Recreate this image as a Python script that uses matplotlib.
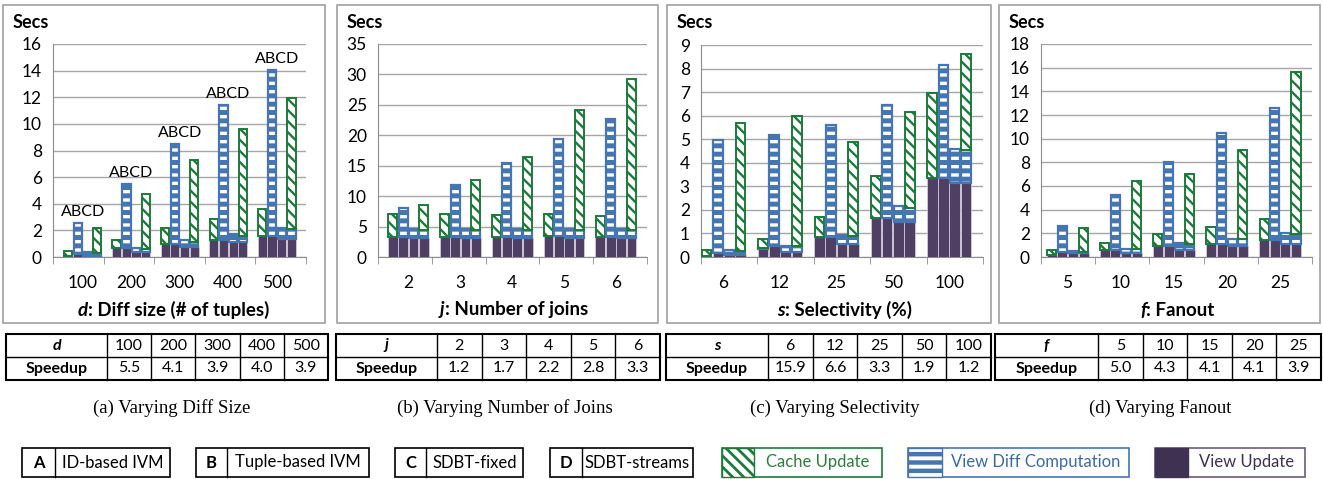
import numpy as np
import matplotlib.pyplot as plt
from matplotlib.patches import Rectangle

W, H = 1323, 479
plt.rcParams['font.family'] = ['Lato', 'DejaVu Sans']

PURPLE = '#4f3f63'
BLUE = '#4676b2'
GREEN = '#1c7a3a'
GRID = '#a6a6a6'
AXIS = '#8c8c8c'

systems = ['A', 'B', 'C', 'D']
system_names = ['ID-based IVM', 'Tuple-based IVM', 'SDBT-fixed', 'SDBT-streams']

# (a) diff size -- rows are systems A..D, columns the 5 settings
d_vals = ['100', '200', '300', '400', '500']
d_update = [[0.05, 0.65, 1.0, 1.3, 1.6],
            [0.25, 0.65, 1.0, 1.3, 1.6],
            [0.1, 0.35, 0.75, 1.1, 1.35],
            [0.1, 0.35, 0.75, 1.1, 1.35]]
d_diff = [[0, 0, 0, 0, 0],
          [2.3, 4.8, 7.5, 10.1, 12.45],
          [0.25, 0.35, 0.5, 0.65, 0.85],
          [0.2, 0.25, 0.4, 0.5, 0.75]]
d_cache = [[0.4, 0.65, 1.15, 1.55, 2.0],
           [0, 0, 0, 0, 0],
           [0, 0, 0, 0, 0],
           [1.9, 4.1, 6.1, 8.05, 9.85]]
d_speedup = ['5.5', '4.1', '3.9', '4.0', '3.9']

# (b) number of joins
j_vals = ['2', '3', '4', '5', '6']
j_update = [[3.3, 3.3, 3.3, 3.4, 3.3],
            [3.3, 3.3, 3.3, 3.4, 3.3],
            [3.1, 3.1, 3.1, 3.1, 3.1],
            [3.1, 3.1, 3.1, 3.1, 3.1]]
j_diff = [[0, 0, 0, 0, 0],
          [4.8, 8.6, 12.2, 16.0, 19.4],
          [1.5, 1.5, 1.5, 1.5, 1.5],
          [1.4, 1.4, 1.4, 1.4, 1.4]]
j_cache = [[3.7, 3.7, 3.6, 3.6, 3.5],
           [0, 0, 0, 0, 0],
           [0, 0, 0, 0, 0],
           [4.1, 8.2, 12.0, 19.6, 24.8]]
j_speedup = ['1.2', '1.7', '2.2', '2.8', '3.3']

# (c) selectivity
s_vals = ['6', '12', '25', '50', '100']
s_update = [[0.05, 0.35, 0.85, 1.65, 3.35],
            [0.15, 0.45, 0.85, 1.65, 3.35],
            [0.1, 0.2, 0.55, 1.5, 3.15],
            [0.1, 0.2, 0.55, 1.5, 3.15]]
s_diff = [[0, 0.05, 0, 0, 0],
          [4.8, 4.75, 4.75, 4.8, 4.8],
          [0.2, 0.25, 0.4, 0.65, 1.45],
          [0.15, 0.25, 0.35, 0.6, 1.4]]
s_cache = [[0.25, 0.35, 0.85, 1.8, 3.6],
           [0, 0, 0, 0, 0],
           [0, 0, 0, 0, 0],
           [5.45, 5.55, 4.0, 4.05, 4.05]]
s_speedup = ['15.9', '6.6', '3.3', '1.9', '1.2']

# (d) fanout
f_vals = ['5', '10', '15', '20', '25']
f_update = [[0.15, 0.55, 0.9, 1.1, 1.4],
            [0.4, 0.55, 0.9, 1.1, 1.4],
            [0.3, 0.35, 0.6, 0.9, 1.1],
            [0.3, 0.35, 0.6, 0.9, 1.1]]
f_diff = [[0, 0, 0, 0, 0],
          [2.25, 4.7, 7.15, 9.4, 11.15],
          [0.2, 0.35, 0.6, 0.65, 0.9],
          [0.15, 0.3, 0.5, 0.6, 0.85]]
f_cache = [[0.4, 0.65, 1.05, 1.45, 1.8],
           [0, 0, 0, 0, 0],
           [0, 0, 0, 0, 0],
           [2.0, 5.75, 5.95, 7.55, 13.7]]
f_speedup = ['5.0', '4.3', '4.1', '4.1', '3.9']

fig = plt.figure(figsize=(W / 100, H / 100), dpi=100)

# overlay in pixel coordinates for boxes, tables, captions and legend
bg = fig.add_axes([0, 0, 1, 1])
bg.set_xlim(0, W)
bg.set_ylim(H, 0)
bg.axis('off')


def hatched_bar(ax, xs, h, w, bottom, ec, hatch, hlw, lw):
    with plt.rc_context({'hatch.linewidth': hlw}):
        bars = ax.bar(xs, h, w, bottom=bottom, color='white', edgecolor=ec,
                      hatch=hatch, lw=lw, zorder=3)
    for b in bars:
        try:
            b.set_hatch_linewidth(hlw)
        except AttributeError:
            pass


def panel(box, rect, xmin, cats, upd, diff, cache, ymax, ystep,
          var, rest, xl_left, abcd=False):
    bg.add_patch(Rectangle((box[0], box[1]), box[2] - box[0], box[3] - box[1],
                           fill=False, ec='#a0a0a0', lw=1.2))
    bg.text(box[0] + 10, 22, 'Secs', fontsize=13, fontweight='bold',
            va='center', ha='left')
    ax = fig.add_axes([rect[0] / W, 1 - rect[3] / H,
                       (rect[2] - rect[0]) / W, (rect[3] - rect[1]) / H])
    ax.set_facecolor('none')
    x = np.arange(len(cats))
    w = 0.2
    for k in range(4):
        xs = x + (k - 1.5) * w
        u = np.array(upd[k], dtype=float)
        dd = np.array(diff[k], dtype=float)
        c = np.array(cache[k], dtype=float)
        ax.bar(xs, u, w * 0.94, color=PURPLE, edgecolor='#d9d2e6', lw=0.5, zorder=3)
        if dd.any():
            hatched_bar(ax, xs, dd, w * 0.86, u, BLUE, '--', 3.6, 1.6)
        if c.any():
            hatched_bar(ax, xs, c, w * 0.86, u + dd, GREEN, '\\\\\\', 1.7, 1.4)
        if abcd and k == 1:
            tops = u + dd + c
            for xi, t in zip(x, tops):
                ax.annotate('ABCD', (xi, t), xytext=(0, 3), textcoords='offset points',
                            ha='center', va='bottom', fontsize=11.5,
                            annotation_clip=False)
    ax.set_xlim(xmin, 4.6)
    ax.set_ylim(0, ymax)
    ax.set_yticks(np.arange(0, ymax + ystep / 2, ystep))
    ax.yaxis.grid(True, color=GRID, lw=1)
    ax.set_axisbelow(True)
    for sp in ['top', 'right']:
        ax.spines[sp].set_visible(False)
    for sp in ['left', 'bottom']:
        ax.spines[sp].set_color(AXIS)
    ax.tick_params(axis='y', length=0, pad=8, labelsize=12.5)
    ax.set_xticks(x)
    ax.set_xticklabels(cats)
    ax.tick_params(axis='x', which='major', length=0, pad=13, labelsize=12.5)
    ax.set_xticks(np.linspace(xmin, 4.6, 6), minor=True)
    ax.tick_params(axis='x', which='minor', length=5, color=AXIS)
    t1 = bg.text(xl_left, 310, var, fontsize=13.5, fontweight='bold', style='italic',
                 va='center', ha='left')
    bg.annotate(rest, xy=(1, 0.5), xycoords=t1, fontsize=13.5, fontweight='bold',
                va='center', ha='left')
    return ax


def table(left, div, right, var, cats, speed):
    top, mid, bot = 334, 357, 380
    bg.add_patch(Rectangle((left, top), right - left, bot - top, fill=False,
                           ec='black', lw=1.5))
    bg.plot([left, right], [mid, mid], color='black', lw=1)
    cols = np.linspace(div, right, len(cats) + 1)
    for cx in cols[:-1]:
        bg.plot([cx, cx], [top, bot], color='black', lw=1)
    bg.text((left + div) / 2, (top + mid) / 2, var, fontsize=11.5, fontweight='bold',
            style='italic', ha='center', va='center')
    bg.text((left + div) / 2, (mid + bot) / 2, 'Speedup', fontsize=11.5,
            fontweight='bold', ha='center', va='center')
    for i in range(len(cats)):
        cx = (cols[i] + cols[i + 1]) / 2
        bg.text(cx, (top + mid) / 2, cats[i], fontsize=11.5, ha='center', va='center')
        bg.text(cx, (mid + bot) / 2, speed[i], fontsize=11.5, ha='center', va='center')


panel((3, 5, 325, 323), (53, 44, 306, 257), -0.61, d_vals, d_update, d_diff, d_cache,
      16, 2, 'd', ': Diff size (# of tuples)', 78, abcd=True)
panel((337, 5, 658, 323), (378, 44, 647, 257), -0.585, j_vals, j_update, j_diff, j_cache,
      35, 5, 'j', ': Number of joins', 440)
panel((667, 5, 991, 323), (701, 45, 983, 257), -0.4, s_vals, s_update, s_diff, s_cache,
      9, 1, 's', ': Selectivity (%)', 777)
panel((999, 5, 1320, 323), (1041, 44, 1312, 257), -0.5, f_vals, f_update, f_diff, f_cache,
      18, 2, 'f', ': Fanout', 1140)

table(6, 107, 328, 'd', d_vals, d_speedup)
table(336, 437, 660, 'j', j_vals, j_speedup)
table(666, 768, 991, 's', s_vals, s_speedup)
table(995, 1098, 1321, 'f', f_vals, f_speedup)

captions = ['(a) Varying Diff Size', '(b) Varying Number of Joins',
            '(c) Varying Selectivity', '(d) Varying Fanout']
for cx, cap in zip([172, 505, 835, 1160], captions):
    bg.text(cx, 408, cap, fontsize=13.5, family='Liberation Serif',
            ha='center', va='center')

# legend: system boxes
ly0, ly1 = 448, 477
sys_boxes = [(22, 55, 170), (196, 227, 369), (395, 426, 523), (550, 582, 693)]
for (l, dv, r), s, name in zip(sys_boxes, systems, system_names):
    bg.add_patch(Rectangle((l, ly0), r - l, ly1 - ly0, fill=False, ec='black', lw=1.2))
    bg.plot([dv, dv], [ly0, ly1], color='black', lw=1)
    bg.text((l + dv) / 2, (ly0 + ly1) / 2, s, fontsize=12, fontweight='bold',
            ha='center', va='center')
    bg.text((dv + r) / 2, (ly0 + ly1) / 2, name, fontsize=12, ha='center', va='center')

# legend: component boxes
comp = [((722, 754, 882), 'Cache Update', GREEN, '#2e7d3e'),
        ((908, 942, 1129), 'View Diff Computation', BLUE, '#3a6aa6'),
        ((1155, 1188, 1305), 'View Update', '#6a5a80', '#3f3152')]
for (l, dv, r), name, ec, tc in comp:
    bg.add_patch(Rectangle((l, ly0), r - l, ly1 - ly0, fill=False, ec=ec, lw=1.2))
    bg.text((dv + r) / 2, (ly0 + ly1) / 2, name, fontsize=12, color=tc,
            ha='center', va='center')
with plt.rc_context({'hatch.linewidth': 2.0}):
    sw1 = Rectangle((722, ly0), 32, ly1 - ly0, facecolor='white', edgecolor=GREEN,
                    hatch='\\\\\\', lw=1)
with plt.rc_context({'hatch.linewidth': 3.2}):
    sw2 = Rectangle((908, ly0), 34, ly1 - ly0, facecolor='white', edgecolor=BLUE,
                    hatch='--', lw=1)
bg.add_patch(sw1)
bg.add_patch(sw2)
bg.add_patch(Rectangle((1155, ly0), 33, ly1 - ly0, facecolor='#3f3152', edgecolor='#3f3152'))

fig.savefig('out.png', dpi=100)
